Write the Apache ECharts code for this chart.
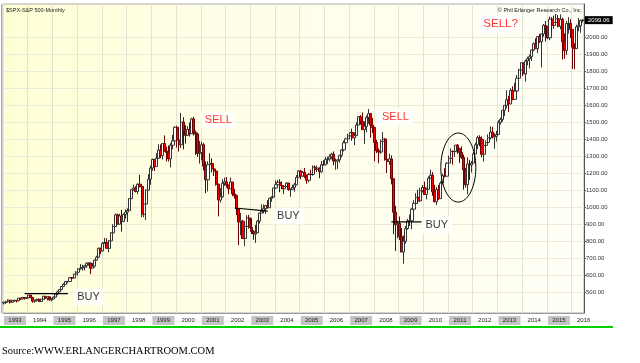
<!DOCTYPE html>
<html><head><meta charset="utf-8">
<script src="https://cdn.jsdelivr.net/npm/echarts@6/dist/echarts.min.js"></script>
<style>html,body{margin:0;padding:0;background:#fff}#c{width:640px;height:363px}</style>
</head><body><div id="c"></div>
<script>
const years = [1993,1994,1995,1996,1997,1998,1999,2000,2001,2002,2003,2004,2005,2006,2007,2008,2009,2010,2011,2012,2013,2014,2015,2016];
const monthsInLastYear = 6;

const opens = [
436,439,443,452,440,450,451,448,464,459,468,462,
466,482,467,446,451,457,444,458,475,463,472,454,
459,470,487,501,515,533,545,562,562,584,582,605,
616,636,640,646,654,669,671,640,652,687,705,757,
741,786,791,757,801,848,885,954,899,947,915,955,
970,980,1049,1102,1112,1091,1134,1121,957,1017,1099,1164,
1229,1280,1238,1286,1335,1302,1373,1329,1320,1283,1363,1389,
1469,1394,1366,1499,1452,1421,1455,1431,1518,1437,1429,1315,
1320,1366,1240,1160,1249,1256,1224,1211,1134,1041,1060,1139,
1148,1130,1107,1147,1077,1067,990,912,916,815,886,936,
880,856,841,848,917,964,975,990,1008,996,1051,1058,
1112,1131,1145,1126,1107,1121,1141,1102,1104,1115,1130,1174,
1212,1181,1204,1181,1157,1192,1191,1234,1220,1229,1207,1249,
1248,1280,1281,1295,1311,1270,1270,1277,1304,1336,1378,1401,
1418,1438,1407,1421,1482,1531,1503,1455,1474,1527,1549,1481,
1468,1379,1331,1323,1386,1400,1280,1267,1283,1166,969,896,
903,826,735,798,873,919,919,987,1021,1057,1036,1096,
1115,1074,1104,1169,1187,1089,1031,1102,1049,1141,1183,1181,
1258,1286,1327,1326,1364,1345,1321,1292,1219,1131,1253,1247,
1258,1312,1366,1408,1398,1310,1362,1379,1407,1441,1412,1416,
1426,1498,1515,1569,1598,1631,1606,1686,1633,1682,1757,1806,
1848,1783,1859,1872,1884,1924,1960,1931,2003,1972,2018,2068,
2059,1995,2105,2068,2086,2107,2063,2104,1972,1920,2079,2080,
2044,1940,1932,2060,2065,2097];

const highs = [
443,449,457,452,454,454,451,464,464,470,468,471,
482,482,472,453,460,462,460,477,476,473,474,466,
473,490,508,515,535,551,565,565,586,587,608,623,
638,665,660,657,673,673,673,670,690,713,762,761,
794,818,816,805,852,899,961,961,960,983,963,986,
992,1050,1106,1131,1122,1139,1190,1121,1069,1103,1193,1244,
1285,1282,1316,1369,1368,1373,1421,1354,1361,1375,1424,1474,
1478,1444,1553,1528,1481,1475,1497,1525,1530,1450,1438,1389,
1384,1377,1268,1269,1316,1286,1240,1219,1137,1111,1163,1173,
1176,1131,1173,1147,1107,1073,994,965,925,907,952,954,
935,864,895,924,965,1015,1015,1011,1040,1053,1063,1112,
1155,1159,1163,1150,1128,1146,1141,1109,1131,1142,1188,1217,
1218,1212,1229,1191,1199,1219,1245,1245,1243,1234,1271,1276,
1295,1297,1310,1319,1327,1285,1281,1306,1340,1390,1407,1431,
1441,1461,1439,1499,1535,1541,1556,1504,1538,1576,1553,1524,
1472,1396,1345,1397,1440,1405,1292,1313,1304,1168,1007,919,
944,876,833,888,930,956,993,1040,1081,1101,1113,1130,
1150,1113,1180,1220,1205,1131,1120,1130,1151,1196,1228,1263,
1302,1344,1332,1364,1371,1346,1357,1308,1230,1292,1278,1270,
1323,1378,1420,1422,1415,1364,1392,1427,1475,1471,1434,1448,
1510,1525,1570,1598,1687,1654,1698,1710,1730,1776,1813,1849,
1851,1867,1884,1897,1925,1968,1992,2005,2019,2019,2076,2094,
2064,2120,2117,2126,2135,2130,2133,2113,2021,2094,2117,2105,
2044,1963,2073,2112,2103,2106];

const lows = [
426,429,440,432,437,442,438,446,453,457,455,460,
463,465,437,436,443,441,443,456,456,450,448,445,
457,469,481,499,510,530,543,552,559,572,580,601,
597,632,626,627,642,655,605,639,643,683,701,723,
737,782,755,733,800,837,884,898,897,855,910,931,
912,980,1047,1097,1086,1075,1114,940,940,923,1095,1131,
1213,1211,1236,1282,1287,1279,1325,1268,1268,1233,1340,1387,
1350,1326,1347,1339,1373,1419,1414,1431,1420,1306,1295,1255,
1275,1215,1081,1092,1246,1203,1183,1125,945,1026,1054,1124,
1114,1075,1106,1064,1049,952,776,833,815,769,873,872,
841,807,789,847,902,963,962,960,990,995,1031,1053,
1106,1124,1087,1107,1076,1118,1096,1060,1101,1090,1128,1173,
1163,1180,1171,1137,1146,1188,1184,1201,1205,1169,1202,1245,
1245,1253,1268,1281,1245,1219,1224,1261,1291,1327,1361,1385,
1403,1390,1364,1416,1482,1484,1454,1371,1439,1490,1407,1435,
1270,1317,1257,1312,1373,1272,1200,1248,1133,840,741,815,
805,735,667,784,866,888,869,979,992,1020,1030,1086,
1072,1045,1102,1167,1066,1028,1011,1040,1049,1132,1173,1181,
1257,1284,1249,1295,1312,1259,1282,1102,1114,1075,1159,1203,
1258,1311,1341,1358,1292,1267,1325,1378,1397,1403,1343,1385,
1426,1485,1501,1536,1581,1560,1605,1627,1633,1647,1746,1768,
1770,1738,1834,1815,1859,1915,1931,1905,1964,1821,2002,1973,
1988,1981,2040,2048,2068,2057,2045,1867,1872,1894,2020,1993,
1812,1810,1932,2034,2025,2086];

const closes = [
439,443,452,440,450,451,448,464,459,468,462,466,
482,467,446,451,457,444,458,475,463,472,454,459,
470,487,501,515,533,545,562,562,584,582,605,616,
636,640,646,654,669,671,640,652,687,705,757,741,
786,791,757,801,848,885,954,899,947,915,955,970,
980,1049,1102,1112,1091,1134,1121,957,1017,1099,1164,1229,
1280,1238,1286,1335,1302,1373,1329,1320,1283,1363,1389,1469,
1394,1366,1499,1452,1421,1455,1431,1518,1437,1429,1315,1320,
1366,1240,1160,1249,1256,1224,1211,1134,1041,1060,1139,1148,
1130,1107,1147,1077,1067,990,912,916,815,886,936,880,
856,841,848,917,964,975,990,1008,996,1051,1058,1112,
1131,1145,1126,1107,1121,1141,1102,1104,1115,1130,1174,1212,
1181,1204,1181,1157,1192,1191,1234,1220,1229,1207,1249,1248,
1280,1281,1295,1311,1270,1270,1277,1304,1336,1378,1401,1418,
1438,1407,1421,1482,1531,1503,1455,1474,1527,1549,1481,1468,
1379,1331,1323,1386,1400,1280,1267,1283,1166,969,896,903,
826,735,798,873,919,919,987,1021,1057,1036,1096,1115,
1074,1104,1169,1187,1089,1031,1102,1049,1141,1183,1181,1258,
1286,1327,1326,1364,1345,1321,1292,1219,1131,1253,1247,1258,
1312,1366,1408,1398,1310,1362,1379,1407,1441,1412,1416,1426,
1498,1515,1569,1598,1631,1606,1686,1633,1682,1757,1806,1848,
1783,1859,1872,1884,1924,1960,1931,2003,1972,2018,2068,2059,
1995,2105,2068,2086,2107,2063,2104,1972,1920,2079,2080,2044,
1940,1932,2060,2065,2097,2099.06];

const yTicks = [500,600,700,800,900,1000,1100,1200,1300,1400,1500,1600,1700,1800,1900,2000];
const lastPriceLabel = '2099.06';

const buyLines = [
  [['1993-11', 490], ['1995-08', 490]],
  [['2002-05', 994], ['2003-09', 976]],
  [['2008-09', 912], ['2009-12', 912]]
];
const notes = [
  {x:'2001-09', y:1512, text:'SELL', color:'#ff0000', size:11},
  {x:'2008-11', y:1529, text:'SELL', color:'#ff0000', size:11},
  {x:'2013-02', y:2076, text:'SELL?', color:'#ff0000', size:11.5},
  {x:'1996-06', y:471, text:'BUY', color:'#000000', size:11},
  {x:'2004-07', y:947, text:'BUY', color:'#000000', size:11},
  {x:'2010-07', y:894, text:'BUY', color:'#000000', size:11}
];
const ellipseBox = [['2010-09', 1435], ['2012-02', 1029]];

const months = [];
years.forEach((y, yi) => {
  const n = (yi === years.length - 1) ? monthsInLastYear : 12;
  for (let m = 1; m <= n; m++) months.push(y + '-' + (m < 10 ? '0' + m : m));
});
const ohlc = months.map((_, i) => [opens[i], closes[i], lows[i], highs[i]]);

const chart = echarts.init(document.getElementById('c'), null, {renderer:'canvas'});
const lblBase = {width:22, height:9, lineHeight:9, align:'center', fontSize:6, color:'#222', fontFamily:'Arial'};
const series = [{
  type:'candlestick', data: ohlc, barWidth: 2.6,
  itemStyle:{color:'#ffffff', color0:'#ff0000', borderColor:'#333333', borderColor0:'#6a0000', borderWidth:1},
  markLine:{silent:true, symbol:'none', animation:false,
    data:[{yAxis: closes[closes.length-1]}],
    lineStyle:{color:'rgba(0,0,0,0)', width:0, opacity:1},
    label:{show:true, position:'end', formatter: lastPriceLabel, backgroundColor:'#000', color:'#fff', fontSize:6, padding:[1,3,1,3], distance:1, fontFamily:'Arial'}
  }
}];
buyLines.forEach(l => series.push({type:'line', data:l, symbol:'none', z:4, lineStyle:{color:'#000', width:1.2}, silent:true}));
series.push({
  type:'scatter', symbolSize:1, z:5, silent:true,
  itemStyle:{color:'rgba(0,0,0,0)'},
  data: notes.map(n => ({value:[n.x, n.y], label:{formatter:n.text, color:n.color, fontSize:n.size}})),
  label:{show:true, position:'inside', backgroundColor:'#ffffff', padding:[3,4,3,4], fontFamily:'Arial'}
});

chart.setOption({
  animation:false,
  grid:{left:3, right:56, top:4, bottom:50, show:true, borderColor:'#aaaaaa', borderWidth:1,
    backgroundColor:{type:'linear', x:0, y:0, x2:1, y2:0, colorStops:[{offset:0,color:'#ffffd6'},{offset:0.35,color:'#fffee6'},{offset:1,color:'#fffff7'}]}},
  xAxis:{type:'category', data:months, boundaryGap:true,
    axisLine:{show:true, lineStyle:{color:'#999'}},
    axisTick:{show:false},
    axisLabel:{interval:(i)=>i%12===0, align:'left', margin:3,
      formatter:(v)=>{const y=+v.slice(0,4); return (y%2 ? '{g|' : '{w|') + y + '}';},
      rich:{g:Object.assign({backgroundColor:'#c4c4c4'}, lblBase), w:Object.assign({backgroundColor:'#ffffff'}, lblBase)}},
    splitLine:{show:true, interval:(i)=>i%12===0, lineStyle:{color:'#e4e4d4', width:1}}
  },
  yAxis:{type:'value', position:'right', min:376.5, max:2194,
    axisLine:{show:true, lineStyle:{color:'#555'}},
    axisTick:{show:true, length:2, customValues:yTicks, lineStyle:{color:'#555'}},
    axisLabel:{customValues:yTicks, formatter:(v)=>v.toFixed(2), fontSize:6, color:'#333', margin:2, fontFamily:'Arial'},
    splitLine:{show:true, lineStyle:{color:'#ecebd8'}}
  },
  series: series
});

const p1 = chart.convertToPixel({gridIndex:0}, ellipseBox[0]);
const p2 = chart.convertToPixel({gridIndex:0}, ellipseBox[1]);
chart.setOption({graphic:[
  {type:'ellipse', shape:{cx:(p1[0]+p2[0])/2, cy:(p1[1]+p2[1])/2, rx:Math.abs(p2[0]-p1[0])/2, ry:Math.abs(p2[1]-p1[1])/2},
   style:{fill:null, stroke:'#000', lineWidth:1}, z:100},
  {type:'text', left:6, top:7, style:{text:'$SPX-S&P 500-Monthly', fontSize:5.5, fill:'#222', fontFamily:'Arial'}, z:100},
  {type:'text', x:582, y:7, style:{text:'© Phil Erlanger Research Co., Inc.', fontSize:5.5, fill:'#222', fontFamily:'Arial', align:'right'}, z:100},
  {type:'line', shape:{x1:0, y1:327, x2:613, y2:327}, style:{stroke:'#00d000', lineWidth:2}, z:100},
  {type:'line', shape:{x1:1.5, y1:4, x2:1.5, y2:313}, style:{stroke:'#aaaaaa', lineWidth:1}, z:100},
  {type:'text', left:2, top:346, style:{text:'Source:WWW.ERLANGERCHARTROOM.COM', fontSize:10.5, fill:'#000', fontFamily:'"Liberation Serif", "Times New Roman", serif'}, z:100}
]});
</script></body></html>
